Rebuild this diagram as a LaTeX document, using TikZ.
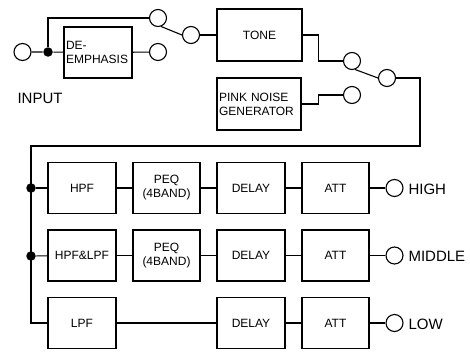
\documentclass[tikz,border=0pt]{standalone}
\usepackage{fontspec}
\setmainfont{Liberation Sans}
\begin{document}
\begin{tikzpicture}[x=1pt,y=-1pt,line width=1.1pt,
  blk/.style={draw,rectangle,inner sep=0pt,font=\fontsize{12}{14}\selectfont,align=center},
  term/.style={draw,circle,minimum size=17pt,inner sep=0pt},
  jdot/.style={fill,circle,minimum size=9.5pt,inner sep=0pt},
  lbl/.style={font=\fontsize{15}{17}\selectfont,inner sep=0pt}]
\useasboundingbox (0,0) rectangle (470,353);
% top section
\node[term] (in) at (22.5,52) {};
\node[jdot] (j0) at (48,52) {};
\node[blk,minimum width=68pt,minimum height=51pt,align=left,text width=64pt] (de) at (98,52.5) {DE-\\EMPHASIS};
\node[term] (a1) at (158,18) {};
\node[term] (a2) at (158,52) {};
\node[term] (sw1) at (191,35) {};
\node[lbl] (inlbl) at (40,98) {INPUT};
\node[blk,minimum width=85pt,minimum height=52pt] (tone) at (259.5,35) {TONE};
\node[blk,minimum width=84pt,minimum height=52pt,align=left,text width=80pt] (pink) at (259,104) {PINK NOISE\\GENERATOR};
\node[term] (t1) at (352,61) {};
\node[term] (t2) at (352,95) {};
\node[term] (sw2) at (387,78) {};
\coordinate (c1) at (420,146);
\coordinate (c2) at (31,146);
% rows
\node[jdot] (j1) at (31,188) {};
\node[jdot] (j2) at (31,256) {};
\foreach \r/\y/\a/\o in {1/188/HPF/HIGH, 2/255.5/HPF\&LPF/MIDDLE, 3/323/LPF/LOW}{
  \node[blk,minimum width=68pt,minimum height=51pt] (f\r) at (82,\y) {\a};
  \node[blk,minimum width=68pt,minimum height=51pt] (d\r) at (251,\y) {DELAY};
  \node[blk,minimum width=67pt,minimum height=51pt] (at\r) at (335.5,\y) {ATT};
  \node[term] (o\r) at (394.5,\y) {};
  \node[lbl,anchor=west] (ol\r) at (408,\y+1) {\o};
  \draw (d\r) -- (at\r) (at\r) -- (o\r);
}
\node[blk,minimum width=67pt,minimum height=51pt] (p1) at (166.5,188) {PEQ\\(4BAND)};
\node[blk,minimum width=67pt,minimum height=51pt] (p2) at (166.5,255.5) {PEQ\\(4BAND)};
\draw (f1) -- (p1) (p1) -- (d1);
\draw (f2) -- (p2) (p2) -- (d2);
\draw (f3) -- (d3);
% connectors
\draw (in) -- (j0) -- (de);
\draw (j0) |- (a1);
\draw (de) -- (a2);
\draw (a1.-70) -- (sw1.west);
\draw (sw1) -- (tone);
\draw (tone.east) -- ++(16,0) |- (t1);
\draw (pink.east) -- ++(17,0) |- (t2);
\draw (t1.-70) -- (sw2.west);
\draw (sw2.east) -| (c1) -- (c2) |- (f3.west);
\draw (j1) -- (f1);
\draw (j2) -- (f2);
\end{tikzpicture}
\end{document}
